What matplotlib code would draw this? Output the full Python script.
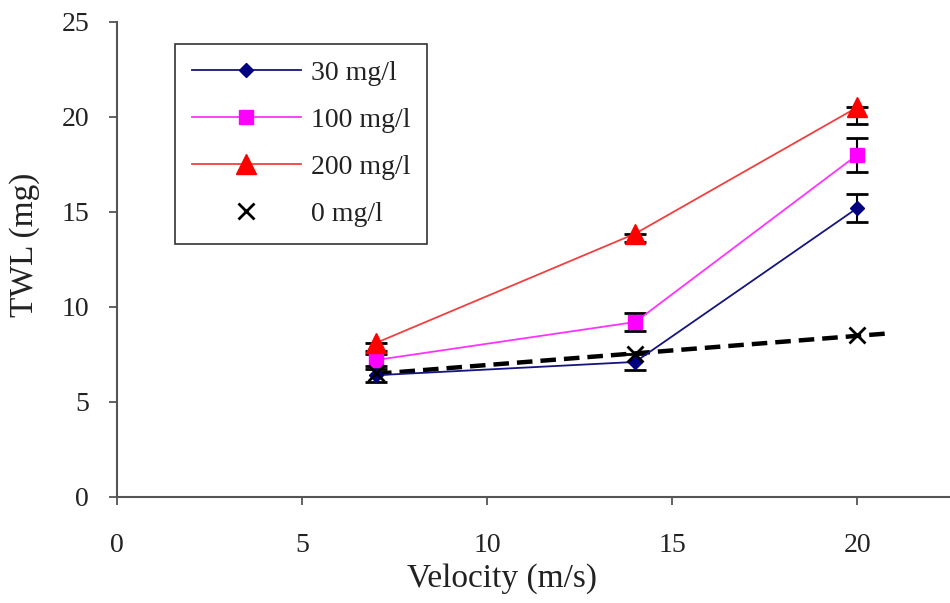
import numpy as np
import matplotlib
matplotlib.use("Agg")
import matplotlib.pyplot as plt

plt.rcParams['font.family'] = ['Liberation Serif', 'DejaVu Serif']

velocity = [7, 14, 20]
twl_30 = [6.4, 7.1, 15.2]
twl_100 = [7.2, 9.2, 18.0]
twl_200 = [8.1, 13.85, 20.5]
twl_0 = [6.5, 7.5, 8.5]
err_30 = [0.35, 0.4, 0.75]
err_100 = [0.3, 0.45, 0.9]
err_200_low = [0.4, 0.45, 0.9]
err_200_up = [0, 0, 0]
trend_x_end = 20.8

x_ticks = [0, 5, 10, 15, 20]
y_ticks = [0, 5, 10, 15, 20, 25]

fig = plt.figure(figsize=(9.5, 6.03), dpi=100)
ax = fig.add_axes([0.123, 0.176, 0.877, 0.788])

ebkw = dict(fmt='none', ecolor='black', elinewidth=1.5, capsize=8, capthick=2, zorder=2)
ax.errorbar(velocity, twl_30, yerr=err_30, **ebkw)
ax.errorbar(velocity, twl_100, yerr=err_100, **ebkw)
ax.errorbar(velocity, twl_200, yerr=[err_200_low, err_200_up], **ebkw)

# linear trend line for 0 mg/l
coef = np.polyfit(velocity, twl_0, 1)
tx = np.array([velocity[0], trend_x_end])
ax.plot(tx, np.polyval(coef, tx), color='black', lw=3.2, dashes=(3.5, 1.8), zorder=3)

ax.plot(velocity, twl_30, color='#151580', lw=1.3, marker='D', ms=7, mfc='#000080', mec='#000080', label='30 mg/l', zorder=4)
ax.plot(velocity, twl_100, color='#FF33FF', lw=1.3, marker='s', ms=10, mfc='#FF00FF', mec='#FF00FF', label='100 mg/l', zorder=4)
ax.plot(velocity, twl_200, color='#F04040', lw=1.3, marker='^', ms=15, mfc='#FF0000', mec='#FF0000', label='200 mg/l', zorder=4)
ax.plot(velocity, twl_0, linestyle='none', marker='x', ms=12, mew=2, color='black', label='0 mg/l', zorder=5)

ax.set_xlim(0, 22.5)
ax.set_ylim(0, 25)
ax.set_xticks(x_ticks)
ax.set_yticks(y_ticks)
ax.spines['top'].set_visible(False)
ax.spines['right'].set_visible(False)
for s in ['left', 'bottom']:
    ax.spines[s].set_color('#555555')
    ax.spines[s].set_linewidth(1.5)
ax.tick_params(direction='out', length=6, width=1.3, color='#555555', labelsize=20, labelcolor='#222222')
ax.tick_params(axis='x', pad=20)
ax.tick_params(axis='y', pad=14)
ax.set_xlabel('Velocity (m/s)', fontsize=24, color='#222222')
ax.set_ylabel('TWL (mg)', fontsize=24, color='#222222')
ax.xaxis.set_label_coords(0.462, -0.139)
ax.yaxis.set_label_coords(-0.092, 0.53)

leg = ax.legend(loc='upper left', bbox_to_anchor=(0.0696, 0.9537), borderaxespad=0,
                fontsize=20, frameon=True, fancybox=False, edgecolor='black',
                handlelength=3.95, handletextpad=0.36, labelspacing=0.78, borderpad=0.6)
leg.get_frame().set_linewidth(1.2)
for t in leg.get_texts():
    t.set_color('#222222')

fig.savefig('out.png', dpi=100)
